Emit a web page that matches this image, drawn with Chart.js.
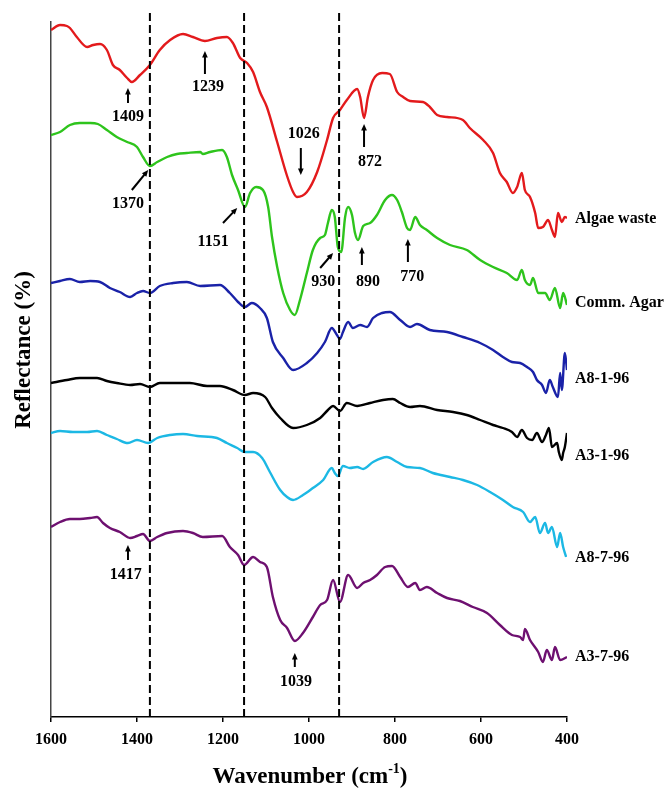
<!DOCTYPE html>
<html>
<head>
<meta charset="utf-8">
<script src="https://cdn.jsdelivr.net/npm/chart.js@4.4.1/dist/chart.umd.min.js"></script>
<style>
  html, body { margin: 0; padding: 0; background: #fff; }
  #wrap { width: 669px; height: 789px; }
</style>
</head>
<body>
<div id="wrap"><canvas id="ftirChart" width="669" height="789"></canvas></div>
<script>
// FTIR spectra, stacked (values are offset reflectance, arbitrary units)

const algaeWn = [1600, 1579, 1563, 1556, 1540, 1516, 1502, 1486, 1470, 1456, 1440, 1423, 1412, 1393, 1370, 1347, 1323, 1293, 1270, 1242, 1214, 1191, 1177, 1160, 1144, 1130, 1114, 1098, 1074, 1051, 1037, 1028, 1005, 981, 958, 944, 928, 912, 888, 881, 872, 863, 851, 830, 812, 795, 781, 765, 735, 719, 702, 679, 642, 626, 595, 572, 556, 540, 526, 516, 505, 498, 486, 474, 467, 456, 444, 435, 428, 421, 412, 405, 400];
const algaeVal = [687, 692, 691, 689, 680, 670, 672, 673, 667, 652, 647, 639, 635, 642, 652, 667, 677, 683, 680, 676, 679, 680, 674, 659, 654, 645, 625, 610, 575, 541, 525, 520, 525, 545, 577, 599, 607, 617, 628, 620, 599, 620, 637, 644, 643, 625, 620, 616, 615, 610, 602, 600, 597, 589, 577, 564, 544, 535, 524, 530, 544, 527, 520, 504, 489, 490, 497, 487, 480, 504, 495, 500, 499];

const agarWn = [1600, 1579, 1556, 1533, 1509, 1491, 1470, 1447, 1423, 1400, 1386, 1370, 1353, 1330, 1307, 1284, 1253, 1247, 1230, 1202, 1191, 1179, 1165, 1149, 1137, 1123, 1107, 1095, 1086, 1074, 1060, 1044, 1033, 1021, 1005, 991, 974, 963, 956, 947, 940, 933, 925, 916, 909, 900, 893, 886, 874, 858, 842, 823, 807, 795, 784, 772, 765, 753, 742, 726, 702, 672, 633, 602, 572, 540, 516, 505, 498, 486, 479, 467, 451, 440, 428, 416, 409, 400];
const agarVal = [582, 585, 592, 594, 594, 593, 587, 580, 575, 570, 560, 551, 555, 560, 563, 564, 565, 563, 565, 567, 560, 542, 527, 510, 524, 530, 527, 510, 480, 450, 424, 407, 402, 417, 444, 467, 479, 482, 494, 507, 500, 470, 465, 500, 510, 502, 484, 477, 491, 494, 502, 517, 522, 517, 505, 489, 487, 500, 492, 487, 479, 472, 467, 457, 450, 444, 437, 447, 437, 432, 439, 424, 424, 417, 429, 409, 424, 412];

const a81Wn = [1600, 1579, 1556, 1533, 1509, 1486, 1463, 1440, 1416, 1400, 1386, 1370, 1347, 1316, 1284, 1253, 1207, 1184, 1165, 1149, 1133, 1114, 1098, 1084, 1060, 1037, 1005, 981, 963, 947, 935, 928, 921, 909, 898, 881, 865, 851, 830, 812, 788, 765, 749, 719, 679, 642, 602, 572, 549, 528, 509, 493, 479, 470, 458, 449, 440, 433, 421, 416, 412, 405, 400];
const a81Val = [434, 436, 438, 435, 436, 435, 429, 425, 420, 424, 426, 424, 431, 434, 435, 431, 432, 424, 415, 410, 414, 409, 399, 375, 359, 347, 354, 364, 375, 389, 382, 378, 385, 395, 389, 392, 390, 399, 404, 405, 397, 390, 393, 387, 385, 380, 374, 367, 360, 355, 354, 350, 345, 337, 332, 324, 337, 330, 320, 344, 327, 364, 347];

const a31Wn = [1600, 1563, 1533, 1493, 1470, 1447, 1416, 1393, 1370, 1347, 1307, 1277, 1237, 1207, 1177, 1149, 1130, 1102, 1086, 1067, 1037, 1005, 974, 956, 944, 928, 912, 888, 858, 828, 805, 788, 765, 742, 702, 665, 633, 602, 572, 549, 528, 516, 505, 493, 481, 470, 458, 449, 442, 435, 423, 419, 412, 409, 405, 400];
const a31Val = [334, 337, 339, 339, 336, 334, 332, 333, 330, 334, 334, 334, 331, 331, 327, 322, 324, 320, 309, 299, 289, 292, 299, 307, 311, 306, 314, 311, 314, 317, 318, 314, 310, 311, 307, 305, 302, 297, 292, 289, 285, 280, 287, 279, 277, 284, 275, 282, 289, 270, 274, 265, 257, 264, 270, 284];

const a87Wn = [1600, 1579, 1549, 1516, 1493, 1470, 1447, 1421, 1400, 1374, 1353, 1323, 1293, 1260, 1214, 1191, 1167, 1149, 1130, 1109, 1091, 1067, 1051, 1037, 1014, 991, 967, 947, 940, 933, 921, 905, 888, 874, 851, 819, 795, 772, 742, 712, 672, 642, 609, 579, 549, 526, 502, 486, 474, 463, 451, 444, 435, 423, 416, 409, 402];
const a87Val = [284, 286, 285, 285, 286, 282, 278, 274, 277, 274, 279, 282, 283, 281, 279, 274, 269, 265, 265, 259, 245, 227, 220, 217, 222, 229, 237, 249, 244, 241, 251, 249, 250, 248, 255, 260, 255, 250, 249, 244, 240, 237, 232, 225, 217, 210, 205, 195, 200, 184, 194, 184, 190, 170, 184, 170, 160];

const a37Wn = [1600, 1579, 1556, 1533, 1509, 1493, 1479, 1463, 1440, 1416, 1400, 1386, 1370, 1353, 1330, 1293, 1270, 1247, 1202, 1184, 1165, 1151, 1130, 1114, 1098, 1084, 1067, 1051, 1033, 1014, 991, 974, 958, 944, 928, 909, 888, 874, 858, 842, 823, 807, 788, 770, 753, 742, 726, 702, 679, 649, 619, 586, 556, 528, 509, 502, 498, 486, 467, 456, 447, 435, 428, 416, 400];
const a37Val = [190, 195, 198, 198, 199, 200, 194, 189, 185, 179, 181, 183, 176, 180, 184, 186, 184, 180, 181, 170, 162, 152, 160, 155, 150, 120, 97, 89, 76, 84, 100, 112, 117, 137, 115, 142, 129, 134, 137, 142, 150, 151, 140, 130, 134, 127, 130, 124, 119, 116, 110, 104, 92, 82, 80, 77, 88, 77, 65, 55, 67, 57, 70, 57, 60];

const seriesNames = ["Algae waste", "Comm. Agar", "A8-1-96", "A3-1-96", "A8-7-96", "A3-7-96"];
const seriesColors = ["#e31a1c", "#2ec41c", "#1a22a8", "#000000", "#1cb8e4", "#6e1070"];
const nameLevels = [498, 414, 338, 261, 159, 60];

const xTicks = [1600, 1400, 1200, 1000, 800, 600, 400];
const guideWaves = [1370, 1151, 930];

// peak annotations: text, text position, arrow tail, arrow tip (wavenumber, value)
const peakTexts = ["1409", "1239", "1026", "872", "1370", "1151", "930", "890", "770", "1417", "1039"];
const peakTextAt = [[1421, 600], [1235, 630], [1012, 583], [858, 555], [1421, 513], [1223, 475], [967, 435], [863, 435], [760, 440], [1426, 142], [1030, 35]];
const arrowFrom = [[1421, 614], [1242, 643], [1019, 569], [872, 570], [1412, 527], [1200, 494], [974, 449], [877, 452], [770, 455], [1421, 157], [1033, 50]];
const arrowTo = [[1421, 629], [1242, 666], [1019, 542], [872, 593], [1374, 547], [1167, 509], [944, 464], [877, 470], [770, 478], [1421, 172], [1033, 64]];

const serif = '"Liberation Serif", "Times New Roman", serif';

const allWn = [algaeWn, agarWn, a81Wn, a31Wn, a87Wn, a37Wn];
const allVal = [algaeVal, agarVal, a81Val, a31Val, a87Val, a37Val];

const datasets = seriesNames.map((name, k) => ({
    label: name,
    data: allWn[k].map((w, i) => ({ x: w, y: allVal[k][i] })),
    borderColor: seriesColors[k],
    borderWidth: 2.4,
    pointRadius: 0,
    cubicInterpolationMode: "monotone",
    fill: false
}));

function drawArrow(ctx, x1, y1, x2, y2) {
    const ang = Math.atan2(y2 - y1, x2 - x1);
    const head = 7;
    ctx.beginPath();
    ctx.moveTo(x1, y1);
    ctx.lineTo(x2 - Math.cos(ang) * head * 0.8, y2 - Math.sin(ang) * head * 0.8);
    ctx.stroke();
    ctx.beginPath();
    ctx.moveTo(x2, y2);
    ctx.lineTo(x2 - head * Math.cos(ang - 0.42), y2 - head * Math.sin(ang - 0.42));
    ctx.lineTo(x2 - head * Math.cos(ang + 0.42), y2 - head * Math.sin(ang + 0.42));
    ctx.closePath();
    ctx.fill();
}

const markPlugin = {
    id: "markPlugin",
    afterDatasetsDraw(chart) {
        const ctx = chart.ctx;
        const xs = chart.scales.x;
        const ys = chart.scales.y;
        const area = chart.chartArea;
        ctx.save();

        // dashed guide lines
        ctx.strokeStyle = "#000";
        ctx.lineWidth = 2;
        ctx.setLineDash([8, 4]);
        guideWaves.forEach(w => {
            const px = xs.getPixelForValue(w);
            ctx.beginPath();
            ctx.moveTo(px, area.top - 9);
            ctx.lineTo(px, area.bottom);
            ctx.stroke();
        });
        ctx.setLineDash([]);

        // arrows and peak labels
        ctx.fillStyle = "#000";
        ctx.lineWidth = 2;
        peakTexts.forEach((t, i) => {
            drawArrow(ctx,
                xs.getPixelForValue(arrowFrom[i][0]), ys.getPixelForValue(arrowFrom[i][1]),
                xs.getPixelForValue(arrowTo[i][0]), ys.getPixelForValue(arrowTo[i][1]));
        });
        ctx.font = "bold 16px " + serif;
        ctx.textAlign = "center";
        ctx.textBaseline = "middle";
        peakTexts.forEach((t, i) => {
            ctx.fillText(t, xs.getPixelForValue(peakTextAt[i][0]), ys.getPixelForValue(peakTextAt[i][1]));
        });

        // series names at the right
        ctx.textAlign = "left";
        seriesNames.forEach((n, k) => {
            ctx.fillText(n, area.right + 8, ys.getPixelForValue(nameLevels[k]));
        });

        // axis titles
        ctx.font = "bold 23px " + serif;
        const main = "Wavenumber (cm";
        const close = ")";
        const wMain = ctx.measureText(main).width;
        const wClose = ctx.measureText(close).width;
        ctx.font = "bold 14px " + serif;
        const wSup = ctx.measureText("-1").width;
        const total = wMain + wSup + wClose;
        const sx = (area.left + area.right) / 2 + 1 - total / 2;
        const ty = 777;
        ctx.font = "bold 23px " + serif;
        ctx.fillText(main, sx, ty);
        ctx.font = "bold 14px " + serif;
        ctx.fillText("-1", sx + wMain, ty - 8);
        ctx.font = "bold 23px " + serif;
        ctx.fillText(close, sx + wMain + wSup, ty);

        ctx.translate(24, 350);
        ctx.rotate(-Math.PI / 2);
        ctx.textAlign = "center";
        ctx.fillText("Reflectance (%)", 0, 0);

        ctx.restore();
    }
};

new Chart(document.getElementById("ftirChart"), {
    type: "line",
    data: { datasets: datasets },
    options: {
        responsive: false,
        animation: false,
        layout: { padding: { top: 22, right: 102, left: 0, bottom: 0 } },
        plugins: {
            legend: { display: false },
            tooltip: { enabled: false }
        },
        scales: {
            x: {
                type: "linear",
                reverse: true,
                min: 400,
                max: 1600,
                afterBuildTicks: scale => { scale.ticks = xTicks.map(v => ({ value: v })); },
                afterFit: scale => { scale.height = 72; },
                ticks: {
                    color: "#000",
                    padding: 8,
                    callback: v => String(v),
                    font: { family: serif, size: 16, weight: "bold" }
                },
                grid: {
                    display: true,
                    drawOnChartArea: false,
                    drawTicks: true,
                    tickLength: 5,
                    color: "#000",
                    lineWidth: 1.5
                },
                border: { display: true, color: "#000", width: 1.5 }
            },
            y: {
                min: 0,
                max: 695,
                afterFit: scale => { scale.width = 51; },
                ticks: { display: false },
                grid: { display: false },
                border: { display: true, color: "#444", width: 1.5 }
            }
        }
    },
    plugins: [markPlugin]
});
</script>
</body>
</html>
